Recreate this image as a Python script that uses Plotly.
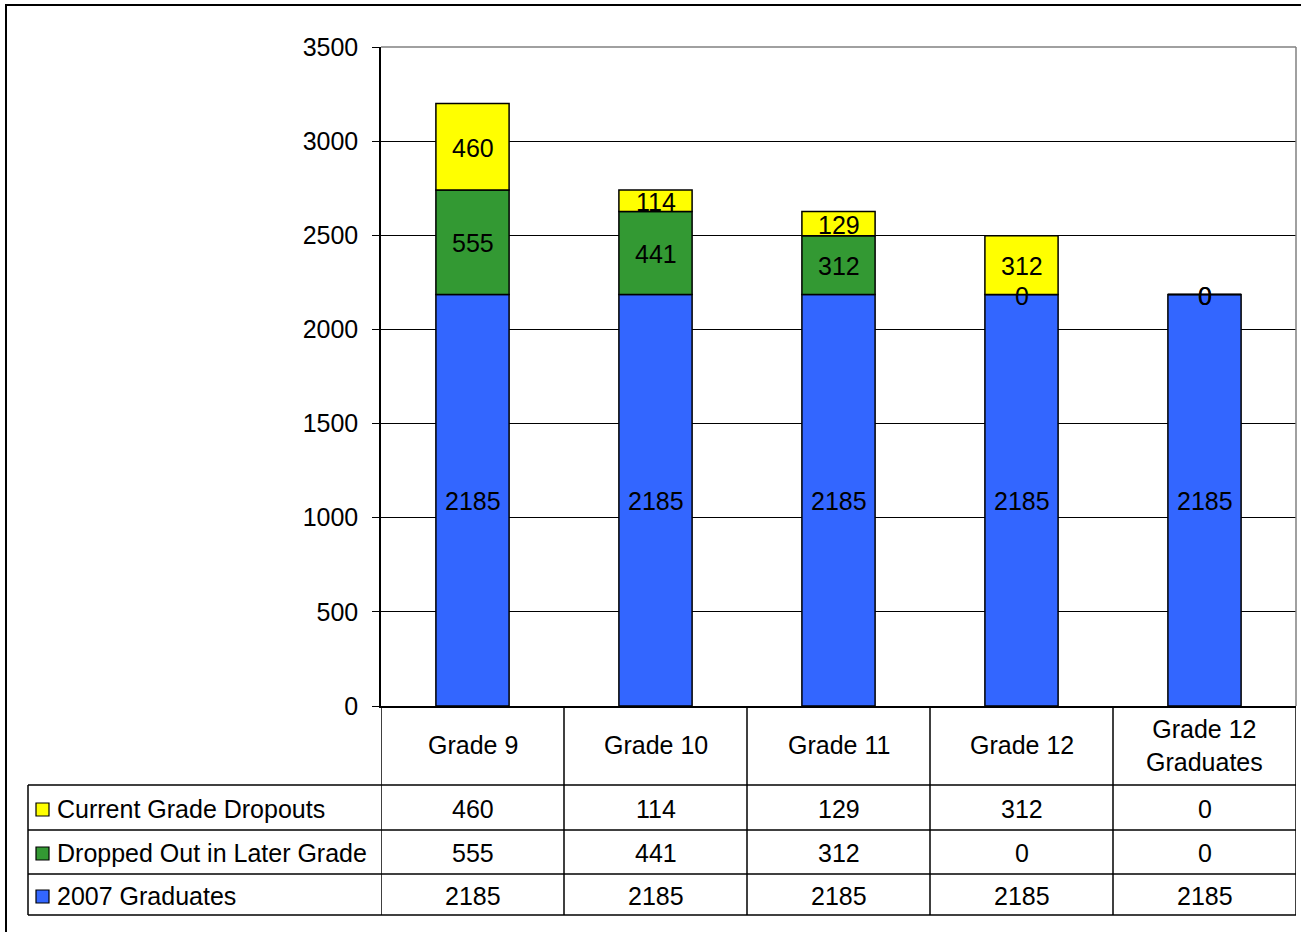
import plotly.graph_objects as go

categories = ["Grade 9", "Grade 10", "Grade 11", "Grade 12", "Grade 12 Graduates"]
header_labels = ["Grade 9", "Grade 10", "Grade 11", "Grade 12", "Grade 12<br>Graduates"]
graduates = [2185, 2185, 2185, 2185, 2185]
dropped_later = [555, 441, 312, 0, 0]
current_dropouts = [460, 114, 129, 312, 0]
y_ticks = [0, 500, 1000, 1500, 2000, 2500, 3000, 3500]

series = [
    ("2007 Graduates", graduates, "#3366FF"),
    ("Dropped Out in Later Grade", dropped_later, "#339933"),
    ("Current Grade Dropouts", current_dropouts, "#FFFF00"),
]

FONT = "Liberation Sans, Arial, sans-serif"
FS = 25

# pixel geometry of plot area
W_FIG, H_FIG = 1301, 932
L, R, T, B = 381, 1296, 47, 706
PW, PH = R - L, B - T


def px(x):
    return (x - L) / PW


def py(y):
    return (B - y) / PH


fig = go.Figure()
xs = list(range(len(categories)))
base = [0] * len(categories)
annotations = []
for name, vals, color in series:
    fig.add_trace(go.Bar(
        x=xs, y=vals, name=name, base=base[:],
        marker=dict(color=color, line=dict(color="black", width=1.5)),
        hoverinfo="skip", showlegend=False,
    ))
    for i, v in enumerate(vals):
        annotations.append(dict(x=i, y=base[i] + v / 2, xref="x", yref="y", text=str(v),
                                showarrow=False, xanchor="center", yanchor="middle",
                                yshift=-1,
                                font=dict(family=FONT, size=FS, color="black")))
    base = [b + v for b, v in zip(base, vals)]

shapes = []
line = dict(color="black", width=1.5)

# outer chart border
shapes.append(dict(type="rect", xref="paper", yref="paper",
                   x0=px(6), x1=px(1320), y0=py(950), y1=py(5),
                   line=dict(color="black", width=2), layer="below"))
# plot-area top/right border (gray)
shapes.append(dict(type="line", xref="paper", yref="paper",
                   x0=0, x1=1, y0=1, y1=1, line=dict(color="#808080", width=1.5)))
shapes.append(dict(type="line", xref="paper", yref="paper",
                   x0=1, x1=1, y0=0, y1=1, line=dict(color="#808080", width=1.5)))

# data table
row_lines = [785, 830, 874, 915]
for yy in row_lines:
    shapes.append(dict(type="line", xref="paper", yref="paper",
                       x0=px(28), x1=1, y0=py(yy), y1=py(yy), line=line))
shapes.append(dict(type="line", xref="paper", yref="paper",
                   x0=px(28), x1=px(28), y0=py(785), y1=py(915), line=line))
for i in range(len(categories) + 1):
    shapes.append(dict(type="line", xref="x", yref="paper",
                       x0=i - 0.5, x1=i - 0.5, y0=0, y1=py(915), line=line))

for i, lab in enumerate(header_labels):
    annotations.append(dict(x=i, y=py(745), xref="x", yref="paper", text=lab,
                            showarrow=False, xanchor="center", yanchor="middle",
                            font=dict(family=FONT, size=FS, color="black")))

row_centers = [808, 852, 895]
table_rows = [series[2], series[1], series[0]]
for (name, vals, color), yc in zip(table_rows, row_centers):
    shapes.append(dict(type="rect", xref="paper", yref="paper",
                       x0=px(36), x1=px(49), y0=py(yc + 8), y1=py(yc - 5),
                       fillcolor=color, line=dict(color="black", width=1.2)))
    annotations.append(dict(x=px(55), y=py(yc + 1), xref="paper", yref="paper", text=name,
                            showarrow=False, xanchor="left", yanchor="middle",
                            font=dict(family=FONT, size=FS, color="black")))
    for i, v in enumerate(vals):
        annotations.append(dict(x=i, y=py(yc + 1), xref="x", yref="paper", text=str(v),
                                showarrow=False, xanchor="center", yanchor="middle",
                                font=dict(family=FONT, size=FS, color="black")))

fig.update_layout(
    width=W_FIG, height=H_FIG,
    margin=dict(l=L, r=W_FIG - R, t=T, b=H_FIG - B, pad=0),
    paper_bgcolor="white", plot_bgcolor="white",
    barmode="overlay", bargap=0.6,
    shapes=shapes, annotations=annotations,
    font=dict(family=FONT, size=FS, color="black"),
    xaxis=dict(range=[-0.5, len(categories) - 0.5], showticklabels=False,
               showgrid=False, zeroline=False, showline=True, linecolor="black",
               linewidth=1.5, ticks=""),
    yaxis=dict(range=[0, 3500], tickvals=y_ticks, showgrid=True, gridcolor="black",
               gridwidth=1, zeroline=False, showline=True, linecolor="black",
               linewidth=1.5, ticks="outside", ticklen=7, tickcolor="black",
               tickfont=dict(family=FONT, size=FS, color="black"), ticklabelstandoff=9),
)

fig.write_html(
    "out.html",
    config={"displayModeBar": False},
    post_script="document.body.style.margin='0';document.body.style.overflow='hidden';",
)
